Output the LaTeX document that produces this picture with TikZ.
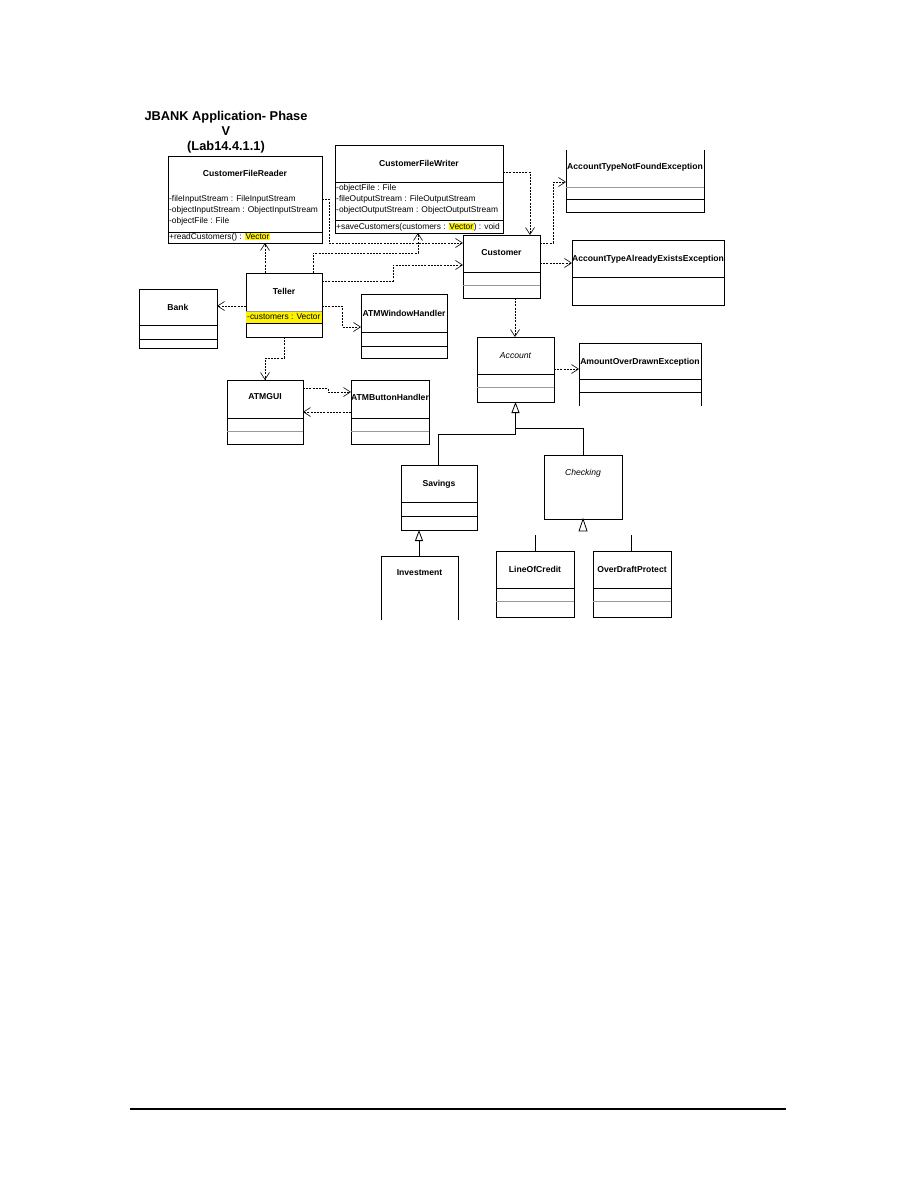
\documentclass[tikz,border=0pt]{standalone}
\usepackage{fontspec}
\setmainfont{Liberation Sans}
\usetikzlibrary{arrows.meta,calc}
\newcommand{\umldiv}[3]{\draw[#1] ($(#2.north west)+(0,#3)$) -- ($(#2.north east)+(0,#3)$);}
\newcommand{\hl}[1]{{\setlength{\fboxsep}{0.6pt}\colorbox{yellow}{#1}}}
\begin{document}
\begin{tikzpicture}[x=1pt,y=-1pt,
 box/.style={draw=black, line width=0.8pt, inner sep=0pt, outer sep=0pt, anchor=north west},
 openbox/.style={inner sep=0pt, outer sep=0pt, anchor=north west},
 cname/.style={font=\fontsize{8.6}{10}\selectfont\bfseries, inner sep=0pt},
 iname/.style={font=\fontsize{8.6}{10}\selectfont\itshape, inner sep=0pt},
 attr/.style={font=\fontsize{8.4}{10}\selectfont, inner sep=0pt, anchor=west},
 bdiv/.style={draw=black, line width=0.8pt},
 gdiv/.style={draw=gray!80, line width=0.8pt},
 solidline/.style={draw=black, line width=0.8pt},
 dep/.style={draw=black, line width=0.6pt, dash pattern=on 2pt off 1.2pt, -{Straight Barb[length=7pt,width=9pt,line width=0.6pt]}},
 gen/.style={draw=black, line width=0.8pt, -{Triangle[open,length=11pt,width=8pt,line width=0.8pt]}},
]
\useasboundingbox (0,0) rectangle (918,1188);
\fill[white] (0,0) rectangle (918,1188);

% title
\node[font=\fontsize{12.8}{15}\selectfont\bfseries, align=center, inner sep=0pt] (title) at (226,132) {JBANK Application- Phase\\V\\(Lab14.4.1.1)};

% CustomerFileReader
\node[box, fill=white, minimum width=154pt, minimum height=87pt] (cfr) at (168,156) {};
\umldiv{bdiv}{cfr}{76}
\node[cname] (cfr-n) at ($(cfr.north)+(0,17)$) {CustomerFileReader};
\node[attr] (cfr-a1) at ($(cfr.north west)+(1,43)$) {-fileInputStream : FileInputStream};
\node[attr] (cfr-a2) at ($(cfr.north west)+(1,54)$) {-objectInputStream : ObjectInputStream};
\node[attr] (cfr-a3) at ($(cfr.north west)+(1,65)$) {-objectFile : File};
\node[attr] (cfr-o1) at ($(cfr.north west)+(1,81)$) {+readCustomers() : \hl{Vector}};

% CustomerFileWriter
\node[box, minimum width=168pt, minimum height=88pt] (cfw) at (335,145) {};
\umldiv{bdiv}{cfw}{37}
\umldiv{bdiv}{cfw}{75}
\node[cname] (cfw-n) at ($(cfw.north)+(0,18)$) {CustomerFileWriter};
\node[attr] (cfw-a1) at ($(cfw.north west)+(1,43)$) {-objectFile : File};
\node[attr] (cfw-a2) at ($(cfw.north west)+(1,54)$) {-fileOutputStream : FileOutputStream};
\node[attr] (cfw-a3) at ($(cfw.north west)+(1,65)$) {-objectOutputStream : ObjectOutputStream};
\node[attr] (cfw-o1) at ($(cfw.north west)+(1,82)$) {+saveCustomers(customers : \hl{Vector}) : void};

% AccountTypeNotFoundException (open top)
\node[openbox, minimum width=138pt, minimum height=62pt] (atnfe) at (566,150) {};
\draw[solidline] (atnfe.north west) -- (atnfe.south west) -- (atnfe.south east) -- (atnfe.north east);
\umldiv{gdiv}{atnfe}{37}
\umldiv{bdiv}{atnfe}{49}
\node[cname] (atnfe-n) at ($(atnfe.north)+(0,17)$) {AccountTypeNotFoundException};

% AccountTypeAlreadyExistsException
\node[box, minimum width=152pt, minimum height=65pt] (ataee) at (572,240) {};
\umldiv{bdiv}{ataee}{37}
\node[cname] (ataee-n) at ($(ataee.north)+(0,19)$) {AccountTypeAlreadyExistsException};

% Customer
\node[box, minimum width=77pt, minimum height=63pt] (customer) at (463,235) {};
\umldiv{bdiv}{customer}{37}
\umldiv{gdiv}{customer}{50}
\node[cname] (customer-n) at ($(customer.north)+(0,18)$) {Customer};

% Teller
\node[box, minimum width=76pt, minimum height=64pt] (teller) at (246,273) {};
\fill[yellow] ($(teller.north west)+(0.4,38)$) rectangle ($(teller.north east)+(-0.4,50)$);
\umldiv{gdiv}{teller}{38}
\umldiv{bdiv}{teller}{50}
\node[cname] (teller-n) at ($(teller.north)+(0,18)$) {Teller};
\node[attr] (teller-a1) at ($(teller.north west)+(1,44)$) {-customers : Vector};

% Bank
\node[box, minimum width=78pt, minimum height=59pt] (bank) at (139,289) {};
\umldiv{bdiv}{bank}{36}
\umldiv{bdiv}{bank}{50}
\node[cname] (bank-n) at ($(bank.north)+(0,18)$) {Bank};

% ATMWindowHandler
\node[box, minimum width=86pt, minimum height=64pt] (atmwh) at (361,294) {};
\umldiv{bdiv}{atmwh}{38}
\umldiv{bdiv}{atmwh}{52}
\node[cname] (atmwh-n) at ($(atmwh.north)+(0,19)$) {ATMWindowHandler};

% Account
\node[box, minimum width=77pt, minimum height=65pt] (account) at (477,337) {};
\umldiv{bdiv}{account}{37}
\umldiv{gdiv}{account}{50}
\node[iname] (account-n) at ($(account.north)+(0,19)$) {Account};

% AmountOverDrawnException (open bottom)
\node[openbox, minimum width=122pt, minimum height=63pt] (aode) at (579,343) {};
\draw[solidline] (aode.south west) -- (aode.north west) -- (aode.north east) -- (aode.south east);
\umldiv{bdiv}{aode}{36}
\umldiv{bdiv}{aode}{49}
\node[cname] (aode-n) at ($(aode.north)+(0,19)$) {AmountOverDrawnException};

% ATMGUI
\node[box, minimum width=76pt, minimum height=64pt] (atmgui) at (227,380) {};
\umldiv{bdiv}{atmgui}{38}
\umldiv{gdiv}{atmgui}{51}
\node[cname] (atmgui-n) at ($(atmgui.north)+(0,17)$) {ATMGUI};

% ATMButtonHandler
\node[box, minimum width=78pt, minimum height=64pt] (atmbh) at (351,380) {};
\umldiv{bdiv}{atmbh}{38}
\umldiv{gdiv}{atmbh}{51}
\node[cname] (atmbh-n) at ($(atmbh.north)+(0,17)$) {ATMButtonHandler};

% Savings
\node[box, minimum width=76pt, minimum height=65pt] (savings) at (401,465) {};
\umldiv{bdiv}{savings}{37}
\umldiv{bdiv}{savings}{51}
\node[cname] (savings-n) at ($(savings.north)+(0,19)$) {Savings};

% Checking
\node[box, minimum width=78pt, minimum height=64pt] (checking) at (544,455) {};
\node[iname] (checking-n) at ($(checking.north)+(0,18)$) {Checking};

% Investment (open bottom)
\node[openbox, minimum width=77pt, minimum height=64pt] (investment) at (381,556) {};
\draw[solidline] (investment.south west) -- (investment.north west) -- (investment.north east) -- (investment.south east);
\node[cname] (investment-n) at ($(investment.north)+(0,17)$) {Investment};

% LineOfCredit
\node[box, minimum width=78pt, minimum height=66pt] (loc) at (496,551) {};
\umldiv{bdiv}{loc}{37}
\umldiv{gdiv}{loc}{50}
\node[cname] (loc-n) at ($(loc.north)+(0,18)$) {LineOfCredit};

% OverDraftProtect
\node[box, minimum width=78pt, minimum height=66pt] (odp) at (593,551) {};
\umldiv{bdiv}{odp}{37}
\umldiv{gdiv}{odp}{50}
\node[cname] (odp-n) at ($(odp.north)+(0,18)$) {OverDraftProtect};

% ---- dependencies ----
\draw[dep] ($(teller.north west)+(19,0)$) -- ($(cfr.south west)+(97,0)$);
\draw[dep] ($(teller.north west)+(67,0)$) |- ($(cfw.south west)+(83,20)$) -- ($(cfw.south west)+(83,0)$);
\draw[dep] ($(teller.north east)+(0,8)$) -| ($(customer.north west)+(-70,30)$) -- ($(customer.north west)+(0,30)$);
\draw[dep] ($(teller.north west)+(0,33)$) -- ($(bank.north east)+(0,17)$);
\draw[dep] ($(teller.north east)+(0,33)$) -| ($(atmwh.north west)+(-19,33)$) -- ($(atmwh.north west)+(0,33)$);
\draw[dep] ($(teller.south west)+(38,0)$) |- ($(atmgui.north west)+(38,-22)$) -- ($(atmgui.north west)+(38,0)$);
\draw[dep] ($(cfr.north east)+(0,43)$) -| ($(customer.north west)+(-134,8)$) -- ($(customer.north west)+(0,8)$);
\draw[dep] ($(cfw.north east)+(0,27)$) -| ($(customer.north west)+(67,0)$);
\draw[dep] ($(customer.north east)+(0,8)$) -| ($(atnfe.north west)+(-13,32)$) -- ($(atnfe.north west)+(0,32)$);
\draw[dep] ($(customer.north east)+(0,28)$) -- ($(ataee.north west)+(0,23)$);
\draw[dep] ($(customer.south west)+(52,0)$) -- ($(account.north west)+(38,0)$);
\draw[dep] ($(account.north east)+(0,32)$) -- ($(aode.north west)+(0,26)$);
\draw[dep] ($(atmgui.north east)+(0,8)$) -| ($(atmbh.north west)+(-23,12)$) -- ($(atmbh.north west)+(0,12)$);
\draw[dep] ($(atmbh.north west)+(0,32)$) -- ($(atmgui.north east)+(0,32)$);

% ---- generalizations ----
\draw[gen] ($(savings.north west)+(37,0)$) |- ($(account.south)+(0,32)$) -- (account.south);
\draw[solidline] ($(checking.north west)+(39,0)$) |- ($(account.south)+(0,26)$);
\draw[gen] ($(investment.north west)+(38,0)$) -- ($(savings.south west)+(18,0)$);
\draw[solidline, fill=white] (checking.south) -- ++(-4,12) -- ++(8,0) -- cycle;
\draw[solidline] ($(loc.north west)+(39,0)$) -- ++(0,-16);
\draw[solidline] ($(odp.north west)+(38,0)$) -- ++(0,-16);

% footer rule
\coordinate (footl) at (130,1109);
\coordinate (footr) at (786,1109);
\draw[line width=1.2pt] (footl) -- (footr);
\end{tikzpicture}
\end{document}
